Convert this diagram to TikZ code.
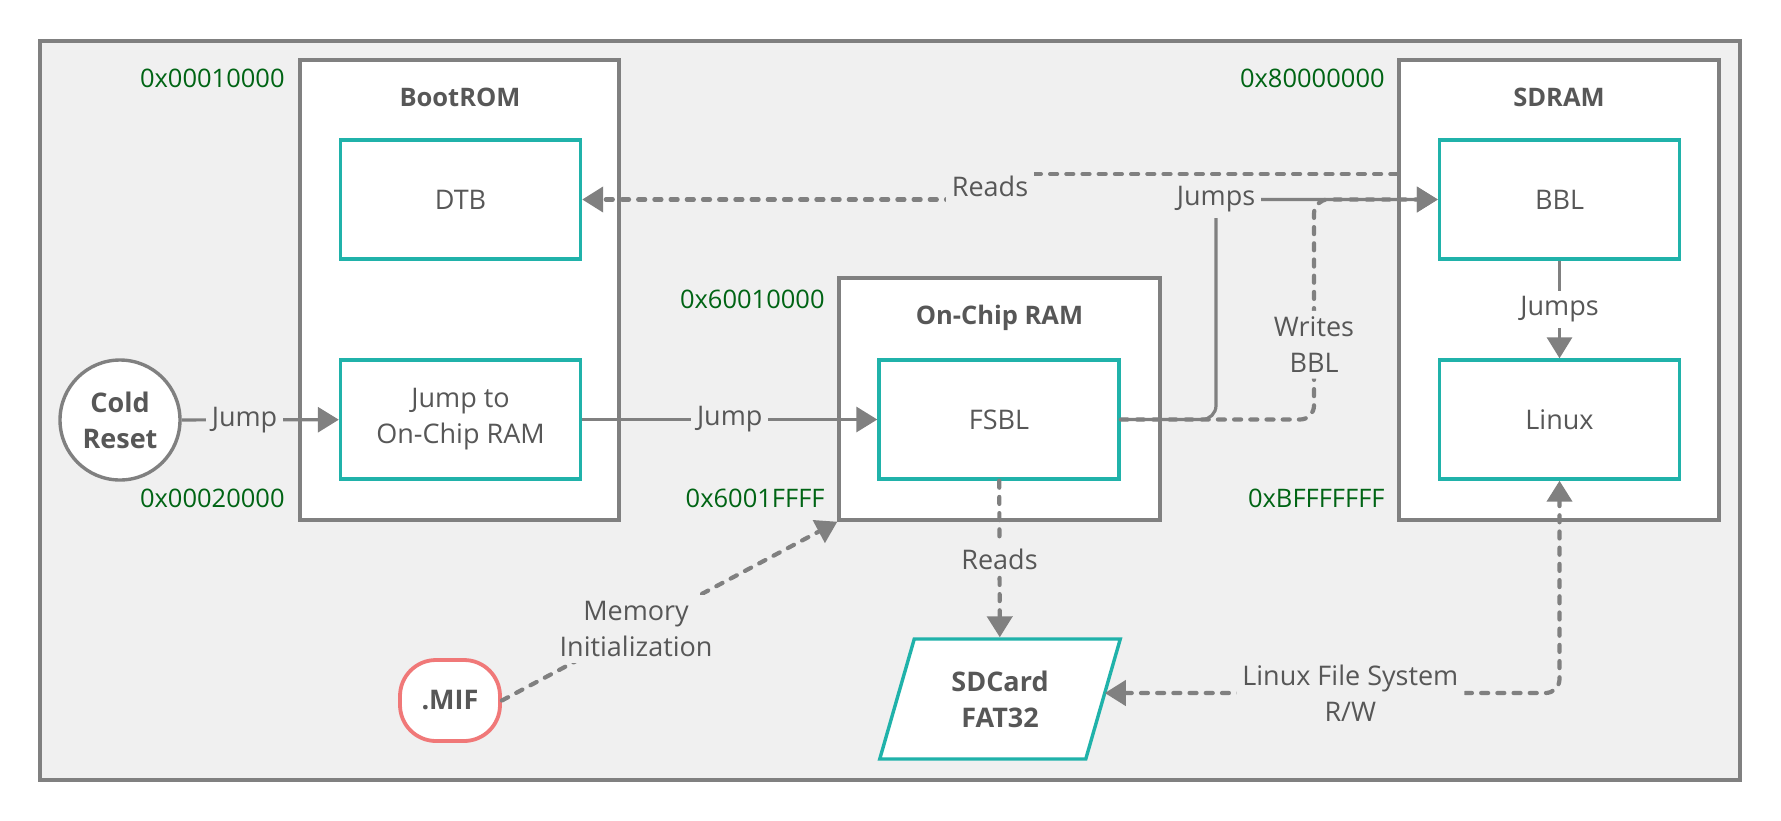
\documentclass[tikz,border=0pt]{standalone}
\usepackage{fontspec}
\setmainfont{Open Sans}
\usetikzlibrary{arrows.meta,shapes.geometric,calc}
\definecolor{bgc}{HTML}{F0F0F0}
\definecolor{edgec}{HTML}{808080}
\definecolor{txtc}{HTML}{575757}
\definecolor{tealc}{HTML}{20B2AA}
\definecolor{addrc}{HTML}{006414}
\definecolor{mifc}{HTML}{F07878}
\newcommand\dgfont{\fontsize{12.75}{18}\selectfont}
\newcommand\dgbody{\fontsize{13.5}{18}\selectfont}
\begin{document}
\begin{tikzpicture}[x=0.5pt,y=-0.5pt,
  >={Triangle[length=10.5pt,width=12.5pt]},
  container/.style={draw=edgec, fill=white, line width=1.7pt, inner sep=0pt},
  box/.style={draw=tealc, fill=white, line width=1.7pt, inner sep=0pt,
    minimum width=120pt, minimum height=59.5pt, text=txtc, font=\dgbody, align=center},
  title/.style={font=\dgfont\bfseries, text=txtc},
  addr/.style={font=\dgfont, text=addrc, anchor=east, inner sep=0pt},
  conn/.style={draw=edgec, line width=1.6pt, ->},
  dconn/.style={conn, line width=2.1pt, line cap=round, dash pattern=on 3.5pt off 4.6pt},
  lbl/.style={font=\dgbody, text=txtc, fill=bgc, inner sep=3pt, align=center}]
\useasboundingbox (0,0) rectangle (1781,820);
% frame
\node[draw=edgec, fill=bgc, line width=1.7pt, inner sep=0pt,
  minimum width=850pt, minimum height=369.5pt] (frame) at (890,410.5) {};
% containers
\node[container, minimum width=159.5pt, minimum height=230pt] (bootrom) at (459.5,290) {};
\node[container, minimum width=160.5pt, minimum height=121pt] (ocr) at (999.5,399) {};
\node[container, minimum width=160pt, minimum height=230pt] (sdram) at (1559,290) {};
\node[title] (t1) at (460,97) {BootROM};
\node[title] (t2) at (999.5,318) {On-Chip RAM};
\node[title] (t3) at (1559,97) {SDRAM};
% inner boxes
\node[box] (dtb) at (460.5,199.5) {DTB};
\node[box] (jocr) at (460.5,419.5) {Jump to\\On-Chip RAM};
\node[box] (fsbl) at (999,419.5) {FSBL};
\node[box] (bbl) at (1559.5,199.5) {BBL};
\node[box] (linux) at (1559.5,419.5) {Linux};
% addresses
\node[addr] (a1) at (285,78) {0x00010000};
\node[addr] (a2) at (285,498) {0x00020000};
\node[addr] (a3) at (825,299) {0x60010000};
\node[addr] (a4) at (825,498) {0x6001FFFF};
\node[addr] (a5) at (1385,78) {0x80000000};
\node[addr] (a6) at (1385,498) {0xBFFFFFFF};
% other nodes
\node[circle, draw=edgec, fill=white, line width=1.7pt, minimum size=60pt, inner sep=0pt,
  font=\dgbody\bfseries, text=txtc, align=center] (cold) at (120,420) {Cold\\Reset};
\node[draw=mifc, fill=white, line width=1.9pt, rounded corners=18pt, minimum width=50pt,
  minimum height=40.5pt, inner sep=0pt, font=\dgbody\bfseries, text=txtc] (mif) at (450,700.5) {.MIF};
\node[trapezium, trapezium left angle=71, trapezium right angle=109, trapezium stretches=true,
  draw=tealc, fill=white, line width=1.7pt, minimum width=121pt, minimum height=60pt,
  inner sep=0pt, font=\dgbody\bfseries, text=txtc, align=center] (sd) at (1000,699) {SDCard\\FAT32};
% connectors
\draw[conn] (cold) -- node[lbl,pos=0.4]{Jump} (jocr);
\draw[conn] (jocr) -- node[lbl]{Jump} (fsbl);
\coordinate (wc) at (1314,199.5);
\coordinate (jc) at (1216,199.5);
\draw[dconn, rounded corners=7pt] (fsbl.east) -| node[lbl,pos=0.67]{Writes\\BBL} (wc) -- (bbl.west);
\draw[conn, rounded corners=7pt] (fsbl.east) -| (jc) -- (bbl.west);
\node[lbl] (jl) at (jc) {Jumps};
\path (sdram.west) ++(0,-116) coordinate (rs);
\coordinate (rc1) at (990,174);
\coordinate (rc2) at (990,199.5);
\draw[dconn] (rs) -- (rc1) -- node[lbl]{Reads} (rc2) -- (dtb.east);
\draw[conn] (bbl) -- node[lbl,fill=white]{Jumps} (linux);
\draw[dconn] (fsbl) -- node[lbl]{Reads} (sd);
\draw[dconn] (mif.east) -- node[lbl,pos=0.4]{Memory\\Initialization} (ocr.south west);
\draw[dconn, <->, rounded corners=7pt] ([yshift=3]sd.east) -| node[lbl,pos=0.27]{Linux File System\\R/W} (linux.south);
\end{tikzpicture}
\end{document}
